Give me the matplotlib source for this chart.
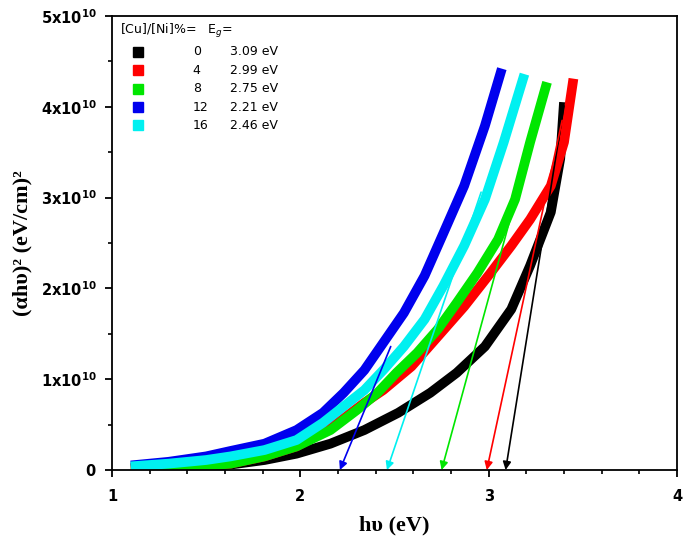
import matplotlib
matplotlib.use("Agg")
import matplotlib.pyplot as plt
from matplotlib.ticker import MultipleLocator, FuncFormatter

# Tauc plot data, (alpha*h*nu)^2 in units of 1e10 (eV/cm)^2
ratios = ["0", "4", "8", "12", "16"]
gaps = ["3.09 eV", "2.99 eV", "2.75 eV", "2.21 eV", "2.46 eV"]
colors = ["#000000", "#ff0000", "#00e600", "#0000ee", "#00f0f0"]

x_0 = [1.10, 1.30, 1.50, 1.63, 1.81, 1.98, 2.16, 2.34, 2.52, 2.69, 2.83, 2.98, 3.12, 3.22, 3.33, 3.38, 3.40]
y_0 = [0.02, 0.03, 0.04, 0.06, 0.11, 0.18, 0.29, 0.44, 0.63, 0.85, 1.07, 1.36, 1.77, 2.25, 2.84, 3.43, 4.05]

x_4 = [1.10, 1.30, 1.50, 1.63, 1.81, 1.98, 2.16, 2.34, 2.44, 2.59, 2.73, 2.87, 3.01, 3.12, 3.22, 3.33, 3.40, 3.45]
y_4 = [0.02, 0.03, 0.05, 0.07, 0.15, 0.26, 0.46, 0.74, 0.88, 1.14, 1.47, 1.80, 2.17, 2.47, 2.76, 3.13, 3.61, 4.31]

x_8 = [1.10, 1.30, 1.50, 1.63, 1.81, 1.98, 2.16, 2.30, 2.41, 2.51, 2.62, 2.73, 2.83, 2.94, 3.05, 3.14, 3.22, 3.31]
y_8 = [0.02, 0.03, 0.05, 0.07, 0.15, 0.26, 0.44, 0.66, 0.85, 1.07, 1.29, 1.55, 1.84, 2.17, 2.54, 2.98, 3.61, 4.27]

x_12 = [1.10, 1.30, 1.50, 1.63, 1.81, 1.98, 2.12, 2.23, 2.34, 2.44, 2.55, 2.66, 2.76, 2.87, 2.98, 3.07]
y_12 = [0.05, 0.09, 0.15, 0.21, 0.29, 0.44, 0.63, 0.85, 1.10, 1.40, 1.73, 2.14, 2.61, 3.13, 3.79, 4.42]

x_16 = [1.10, 1.30, 1.50, 1.63, 1.81, 1.98, 2.12, 2.23, 2.34, 2.44, 2.55, 2.66, 2.76, 2.87, 2.98, 3.08, 3.19]
y_16 = [0.04, 0.07, 0.11, 0.15, 0.22, 0.33, 0.52, 0.70, 0.88, 1.10, 1.36, 1.66, 2.03, 2.47, 2.98, 3.61, 4.36]

# linear fits: upper start point, arrow ends on the axis at Eg
eg_values = [3.09, 2.99, 2.75, 2.21, 2.46]
fit_x0 = [3.40, 3.39, 3.14, 2.48, 2.96]
fit_y0 = [4.01, 3.85, 2.96, 1.36, 3.06]

curves_x = [x_0, x_4, x_8, x_12, x_16]
curves_y = [y_0, y_4, y_8, y_12, y_16]

fig = plt.figure(figsize=(6.85, 5.46), dpi=100)
ax = fig.add_axes([112 / 685, 1 - 470 / 546, 565 / 685, 454 / 546])

for xs, ys, c in zip(curves_x, curves_y, colors):
    ax.plot(xs, ys, color=c, lw=7, solid_capstyle="butt", solid_joinstyle="round")

for x0, y0, eg, c in zip(fit_x0, fit_y0, eg_values, colors):
    ax.annotate("", xy=(eg, 0), xytext=(x0, y0),
                arrowprops=dict(arrowstyle="-|>", color=c, lw=1.2,
                                mutation_scale=12, shrinkA=0, shrinkB=0))

ax.set_xlim(1, 4)
ax.set_ylim(0, 5)
ax.xaxis.set_major_locator(MultipleLocator(1))
ax.xaxis.set_minor_locator(MultipleLocator(0.2))
ax.yaxis.set_major_locator(MultipleLocator(1))
ax.yaxis.set_minor_locator(MultipleLocator(0.5))


def yfmt(v, pos):
    if v == 0:
        return r"$\mathbf{0}$"
    return r"$\mathbf{%dx10^{10}}$" % round(v)


ax.yaxis.set_major_formatter(FuncFormatter(yfmt))
ax.xaxis.set_major_formatter(FuncFormatter(lambda v, p: "%d" % round(v)))

for s in ax.spines.values():
    s.set_linewidth(1.3)
ax.tick_params(which="major", direction="out", length=5, width=1.3, labelsize=10.5, pad=6)
ax.tick_params(which="minor", direction="out", length=3, width=1.2)
ax.tick_params(axis="x", pad=9)
for lab in ax.get_xticklabels():
    lab.set_fontweight("bold")

ax.set_xlabel("hυ (eV)", family="Liberation Serif", fontweight="bold", fontsize=16, labelpad=8)
ax.set_ylabel("(αhυ)² (eV/cm)²", family="Liberation Serif", fontweight="bold", fontsize=16, labelpad=6)

# legend drawn as text block
ax.text(0.014, 0.968, "[Cu]/[Ni]%=   E$_g$=", transform=ax.transAxes, fontsize=9, va="center", ha="left")
for i, (r, g, c) in enumerate(zip(ratios, gaps, colors)):
    yy = 0.921 - i * 0.0405
    ax.plot([0.046], [yy], marker="s", ms=6.5, color=c, transform=ax.transAxes, ls="none")
    ax.text(0.143, yy, r, transform=ax.transAxes, fontsize=9, va="center", ha="left")
    ax.text(0.209, yy, g, transform=ax.transAxes, fontsize=9, va="center", ha="left")

fig.savefig("out.png", dpi=100)
